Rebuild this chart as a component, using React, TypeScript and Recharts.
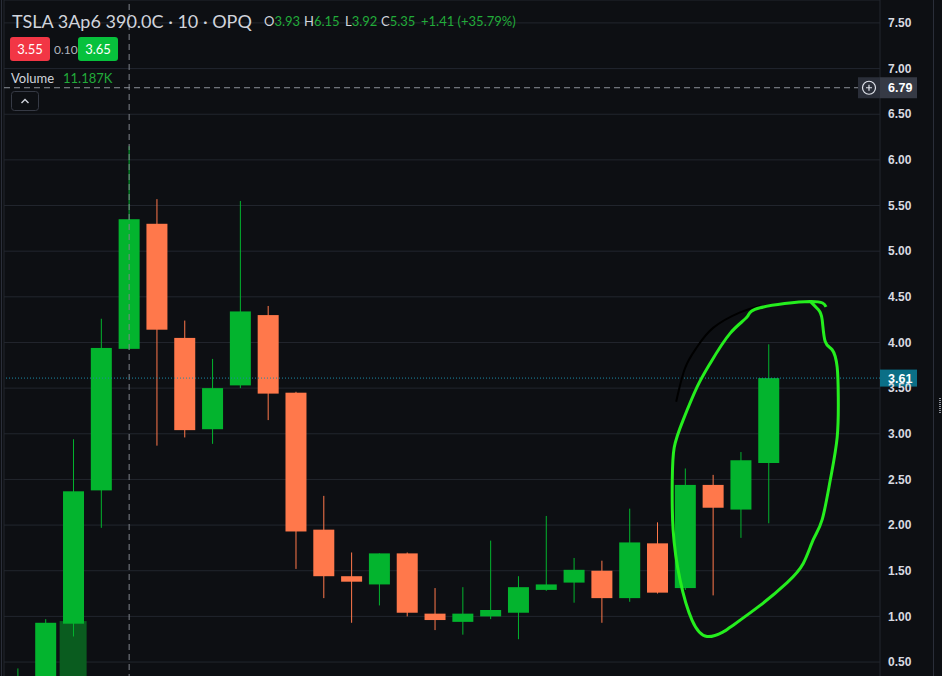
import React from "react";
import {
  ComposedChart,
  Bar,
  Scatter,
  XAxis,
  YAxis,
  CartesianGrid,
  ReferenceLine,
} from "recharts";

// 10-minute candles, oldest first
const opens = [0.2, 0.3, 0.92, 2.38, 3.93, 5.3, 4.05, 3.05, 3.53, 4.3, 3.45, 1.95, 1.44, 1.35, 1.69, 1.03, 0.94, 1.0, 1.04, 1.29, 1.37, 1.5, 1.2, 1.8, 1.31, 2.44, 2.17, 2.68];
const highs = [0.43, 0.97, 2.94, 4.26, 6.15, 5.57, 4.24, 3.82, 5.55, 4.4, 3.46, 2.32, 1.7, 1.69, 1.7, 1.31, 1.32, 1.83, 1.44, 2.1, 1.64, 1.61, 2.18, 2.03, 2.62, 2.55, 2.8, 3.98];
const lows = [0.15, 0.28, 0.78, 1.97, 3.92, 2.87, 2.96, 2.89, 3.5, 3.15, 1.52, 1.2, 0.93, 1.12, 1.0, 0.85, 0.8, 0.97, 0.75, 1.28, 1.15, 0.93, 1.16, 1.25, 1.29, 1.23, 1.86, 2.02];
const closes = [0.3, 0.93, 2.37, 3.94, 5.35, 4.14, 3.04, 3.5, 4.34, 3.44, 1.93, 1.44, 1.38, 1.69, 1.04, 0.96, 1.03, 1.07, 1.32, 1.35, 1.51, 1.2, 1.81, 1.26, 2.44, 2.19, 2.71, 3.61];
// volume in thousands of contracts
const volumes = [2.1, 6.4, 32.6, 14.8, 11.187, 9.6, 5.3, 3.9, 8.2, 4.7, 10.4, 6.1, 3.2, 2.8, 4.4, 2.5, 1.9, 3.6, 2.7, 3.1, 1.8, 2.4, 4.9, 3.3, 7.8, 5.6, 6.9, 9.1];

const priceTicks = [0.5, 1, 1.5, 2, 2.5, 3, 3.5, 4, 4.5, 5, 5.5, 6, 6.5, 7, 7.5];
const timeGrid = [0, 3, 6, 9, 12, 15, 18, 21, 24, 27, 30];

// hand drawn marks on the chart, as (candle index, price)
const ringI = [29.06, 28.49, 26.69, 26.22, 25.61, 24.89, 24.42, 23.92, 23.6, 23.53, 23.56, 23.81, 24.24, 24.78, 25.36, 25.61, 26.69, 27.66, 28.24, 28.6, 28.92, 29.21, 29.46, 29.5, 29.46, 29.28, 29.03, 28.92, 28.78, 28.49];
const ringV = [4.39, 4.45, 4.38, 4.28, 4.1, 3.77, 3.51, 3.15, 2.85, 2.49, 1.95, 1.4, 0.96, 0.78, 0.83, 0.88, 1.12, 1.37, 1.58, 1.84, 2.06, 2.49, 2.96, 3.4, 3.73, 3.92, 4.01, 4.25, 4.36, 4.45];
const arcI = [23.67, 23.99, 24.42, 25.0, 25.97, 26.69];
const arcV = [3.35, 3.72, 3.95, 4.16, 4.33, 4.4];

const UP = "#03b42e";
const DOWN = "#ff784b";
const BG = "#0d0f13";
const GREEN_TXT = "#22ab3a";
const BODY_W = 21;

const candles = opens.map((open, i) => ({
  i,
  open,
  high: highs[i],
  low: lows[i],
  close: closes[i],
  vol: volumes[i],
}));
const ring = ringI.map((i, k) => ({ i, v: ringV[k] }));
const arc = arcI.map((i, k) => ({ i, v: arcV[k] }));

function Candle(props: any) {
  const { x, y, width, height } = props;
  const d = props.payload || props;
  const k = height / (d.high - d.low);
  const yOf = (v: number) => y + (d.high - v) * k;
  const color = d.close >= d.open ? UP : DOWN;
  const top = yOf(Math.max(d.open, d.close));
  const bottom = yOf(Math.min(d.open, d.close));
  const cx = x + (width || 0) / 2;
  return (
    <g>
      <rect x={cx - 0.5} y={y} width={1} height={height} fill={color} />
      <rect x={cx - BODY_W / 2} y={top} width={BODY_W} height={Math.max(1, bottom - top)} fill={color} />
    </g>
  );
}

function VolumeBar(props: any) {
  const { x, y, width, height } = props;
  const d = props.payload || props;
  const fill = d.close >= d.open ? "#0a5c1f" : "#6b3322";
  return <rect x={x} y={y} width={width} height={height} fill={fill} />;
}

function PriceTag(props: any) {
  const vb = props.viewBox || {};
  const right = vb.x + vb.width;
  const cy = vb.y + (vb.height || 0) / 2;
  if (props.kind === "cross") {
    return (
      <g>
        <rect x={right - 22} y={cy - 10.5} width={22} height={21} fill="#2a2e39" />
        <circle cx={right - 11} cy={cy} r={6.5} fill="none" stroke="#e0e3eb" strokeWidth={1.2} />
        <path d={`M${right - 14} ${cy} H${right - 8} M${right - 11} ${cy - 3} V${cy + 3}`} stroke="#e0e3eb" strokeWidth={1.2} />
        <rect x={right} y={cy - 10.5} width={37} height={21} fill="#363a45" />
        <text x={right + 8} y={cy + 4.5} fill="#ffffff" fontSize={12.5} fontWeight={700} fontFamily="Liberation Sans">
          {props.value}
        </text>
      </g>
    );
  }
  return (
    <g>
      <rect x={right} y={cy - 8.5} width={37} height={17} fill="#0b6f86" />
      <text x={right + 8} y={cy + 4.5} fill="#ffffff" fontSize={12.5} fontWeight={700} fontFamily="Liberation Sans">
        {props.value}
      </text>
    </g>
  );
}

function Header() {
  const label = { fill: "#d1d4dc", fontSize: 13, fontFamily: "Lato" };
  const value = { fill: GREEN_TXT, fontSize: 13, fontFamily: "Lato" };
  return (
    <svg width={942} height={676} style={{ position: "absolute", left: 0, top: 0, pointerEvents: "none" }}>
      <line x1={1.5} y1={0} x2={1.5} y2={676} stroke="#2a2e39" />
      <line x1={933.5} y1={0} x2={933.5} y2={676} stroke="#2a2e39" />
      <line x1={940} y1={398} x2={940} y2={413} stroke="#8a8e97" strokeWidth={2} strokeDasharray="1 1" />
      <text x={12} y={28} fill="#d1d4dc" fontSize={18} fontFamily="Lato">
        TSLA 3Ap6 390.0C · 10 · OPQ
      </text>
      <text x={264} y={26} {...label}>O<tspan {...value}>3.93</tspan></text>
      <text x={304} y={26} {...label}>H<tspan {...value}>6.15</tspan></text>
      <text x={345} y={26} {...label}>L<tspan {...value}>3.92</tspan></text>
      <text x={381} y={26} {...label}>C<tspan {...value}>5.35</tspan></text>
      <text x={421} y={26} {...value}>+1.41 (+35.79%)</text>

      <rect x={10} y={37} width={40} height={24} rx={3} fill="#f23645" />
      <text x={30} y={54} textAnchor="middle" fill="#ffffff" fontSize={13} fontFamily="Lato">3.55</text>
      <text x={54} y={54} fill="#b2b5be" fontSize={12} fontFamily="Lato">0.10</text>
      <rect x={78} y={37} width={40} height={24} rx={3} fill="#07c13c" />
      <text x={98} y={54} textAnchor="middle" fill="#ffffff" fontSize={13} fontFamily="Lato">3.65</text>

      <text x={11} y={83} {...label}>Volume</text>
      <text x={63} y={83} {...value}>11.187K</text>

      <rect x={11.5} y={91.5} width={27} height={19} rx={3} fill="none" stroke="#363a45" />
      <path d="M21.5 103 L25 99.5 L28.5 103" fill="none" stroke="#d1d4dc" strokeWidth={1.4} />
    </svg>
  );
}

export default function App() {
  return (
    <div style={{ position: "fixed", left: 0, top: 0, width: 942, height: 676, overflow: "hidden", background: BG }}>
      <div style={{ position: "absolute", left: 0, top: 0 }}>
        <ComposedChart width={942} height={780} data={candles} margin={{ top: 0, right: 0, bottom: 0, left: 4 }}>
          <CartesianGrid xAxisId="x" yAxisId="p" stroke="#22262e" />
          <XAxis
            xAxisId="x"
            type="number"
            dataKey="i"
            domain={[-0.5, 31]}
            ticks={timeGrid}
            allowDataOverflow
            height={0}
            tick={false}
            axisLine={false}
            tickLine={false}
          />
          <XAxis xAxisId="vx" type="number" dataKey="i" domain={[-0.5, 31]} allowDataOverflow hide />
          <YAxis
            yAxisId="p"
            orientation="right"
            width={62}
            domain={[-0.792, 7.751]}
            allowDataOverflow
            ticks={priceTicks}
            interval={0}
            tickFormatter={(v: number) => v.toFixed(2)}
            tick={{ fill: "#d8dae0", fontSize: 12, fontWeight: 700, fontFamily: "Liberation Sans" }}
            tickLine={false}
            axisLine={false}
            tickMargin={2}
          />
          <YAxis yAxisId="vol" hide domain={[0, 160]} />
          <Bar xAxisId="vx" yAxisId="vol" dataKey="vol" barSize={27} shape={<VolumeBar />} isAnimationActive={false} />
          <Bar
            xAxisId="x"
            yAxisId="p"
            dataKey={(d: any) => [d.low, d.high]}
            barSize={21}
            shape={<Candle />}
            isAnimationActive={false}
          />
          <ReferenceLine xAxisId="x" yAxisId="p" x={4} stroke="#80848d" strokeDasharray="6 4" />
          <ReferenceLine
            xAxisId="x"
            yAxisId="p"
            y={6.79}
            stroke="#8d919a"
            strokeDasharray="6 4"
            label={<PriceTag value="6.79" kind="cross" />}
          />
          <ReferenceLine
            xAxisId="x"
            yAxisId="p"
            y={3.61}
            stroke="#1d8aa6"
            strokeDasharray="1 2"
            label={<PriceTag value="3.61" kind="last" />}
          />
          <Scatter
            xAxisId="x"
            yAxisId="p"
            data={arc}
            dataKey="v"
            line={{ stroke: "#000000", strokeWidth: 2 }}
            lineJointType="natural"
            shape={() => <g />}
            isAnimationActive={false}
          />
          <Scatter
            xAxisId="x"
            yAxisId="p"
            data={ring}
            dataKey="v"
            line={{ stroke: "#25ee1e", strokeWidth: 3 }}
            lineJointType="natural"
            shape={() => <g />}
            isAnimationActive={false}
          />
        </ComposedChart>
      </div>
      <Header />
    </div>
  );
}
